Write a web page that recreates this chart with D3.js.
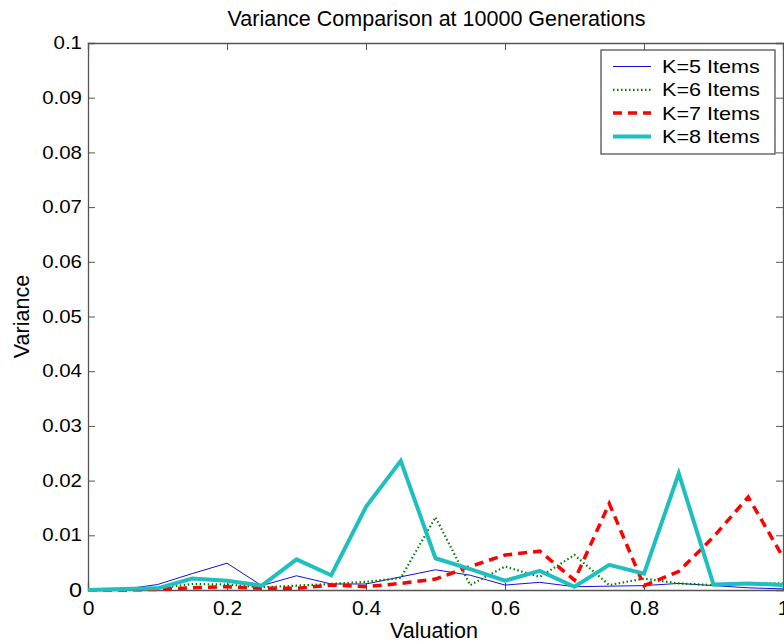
<!DOCTYPE html>
<html>
<head>
<meta charset="utf-8">
<script src="https://cdn.jsdelivr.net/npm/d3@7"></script>
<style>
  html, body { margin: 0; padding: 0; background: #fff; }
  svg { display: block; font-family: "Liberation Sans", Arial, sans-serif; }
</style>
</head>
<body>
<svg id="chart" width="784" height="643"></svg>
<script>
// Valuation grid (x) and variance per item count
const valuation = [0, 0.05, 0.1, 0.15, 0.2, 0.25, 0.3, 0.35, 0.4, 0.45, 0.5,
                   0.55, 0.6, 0.65, 0.7, 0.75, 0.8, 0.85, 0.9, 0.95, 1.0];
const k5 = [0, 0.0001, 0.0010, 0.0030, 0.0049, 0.0008, 0.0026, 0.0011, 0.0011, 0.0024, 0.0037,
            0.0027, 0.0009, 0.0014, 0.0006, 0.0007, 0.0008, 0.0012, 0.0008, 0.0004, 0.0002];
const k6 = [0, 0.0001, 0.0003, 0.0011, 0.0010, 0.0005, 0.0008, 0.0011, 0.0015, 0.0022, 0.0133,
            0.0009, 0.0043, 0.0024, 0.0064, 0.0009, 0.0021, 0.0012, 0.0009, 0.0012, 0.0012];
const k7 = [0, 0, 0.0001, 0.0004, 0.0006, 0.0003, 0.0003, 0.0009, 0.0006, 0.0012, 0.0020,
            0.0043, 0.0064, 0.0071, 0.0018, 0.0158, 0.0008, 0.0034, 0.0097, 0.0170, 0.0060];
const k8 = [0, 0.0002, 0.0003, 0.0021, 0.0017, 0.0008, 0.0056, 0.0027, 0.0152, 0.0236, 0.0058,
            0.0038, 0.0017, 0.0035, 0.0006, 0.0046, 0.0030, 0.0213, 0.0010, 0.0012, 0.0009];
const seriesNames = ["K=5 Items", "K=6 Items", "K=7 Items", "K=8 Items"];
const xTicks = [0, 0.2, 0.4, 0.6, 0.8, 1];
const yTicks = [0, 0.01, 0.02, 0.03, 0.04, 0.05, 0.06, 0.07, 0.08, 0.09, 0.1];

const series = [
  { name: seriesNames[0], values: k5, color: "#1010e0", width: 1,   dash: null },
  { name: seriesNames[1], values: k6, color: "#008000", width: 2.2, dash: "1.5,2.5" },
  { name: seriesNames[2], values: k7, color: "#ff0000", width: 3.5, dash: "9,6" },
  { name: seriesNames[3], values: k8, color: "#1fbfbf", width: 4,   dash: null }
];

const svg = d3.select("#chart");
const plot = { left: 88, top: 43, right: 783, bottom: 590 };
const FONT = "'Liberation Sans', Arial, sans-serif";

const x = d3.scaleLinear().domain([0, 1]).range([plot.left, plot.right]);
const y = d3.scaleLinear().domain([0, 0.1]).range([plot.bottom, plot.top]);

const fmt = d => d === 0 ? "0" : d3.format("~g")(d);
const tickLen = 7;

// Axes: labels on bottom/left, inward ticks on all four sides
const gx = svg.append("g").attr("transform", `translate(0,${plot.bottom})`)
  .call(d3.axisBottom(x).tickValues(xTicks).tickFormat(fmt).tickSize(-tickLen).tickPadding(10));
const gy = svg.append("g").attr("transform", `translate(${plot.left},0)`)
  .call(d3.axisLeft(y).tickValues(yTicks).tickFormat(fmt).tickSize(-tickLen));
const gxTop = svg.append("g").attr("transform", `translate(0,${plot.top})`)
  .call(d3.axisTop(x).tickValues(xTicks).tickFormat("").tickSize(-tickLen));
const gyRight = svg.append("g").attr("transform", `translate(${plot.right},0)`)
  .call(d3.axisRight(y).tickValues(yTicks).tickFormat("").tickSize(-tickLen));

[gx, gy, gxTop, gyRight].forEach(g => {
  g.select(".domain").attr("stroke", "#555").attr("stroke-width", 1.3);
  g.selectAll(".tick line").attr("stroke", "#555").attr("stroke-width", 1);
  g.selectAll("text").attr("fill", "#000").attr("font-family", FONT);
});
gx.selectAll("text").attr("font-size", 21);
// y tick labels are set in a slightly widened face
gy.selectAll(".tick text")
  .attr("x", 0)
  .attr("font-size", d => d === 0 ? 20 : 17.5)
  .attr("transform", "translate(-6,0) scale(1.17,1)");

// Series lines
const line = d3.line().x((d, i) => x(valuation[i])).y(d => y(d));
svg.append("g").selectAll("path").data(series).join("path")
  .attr("d", s => line(s.values))
  .attr("fill", "none")
  .attr("stroke", s => s.color)
  .attr("stroke-width", s => s.width)
  .attr("stroke-dasharray", s => s.dash)
  .attr("stroke-linejoin", "miter");

// Title and axis labels
svg.append("text").attr("x", (plot.left + plot.right) / 2 + 1).attr("y", 26)
  .attr("text-anchor", "middle").attr("font-size", 21.5)
  .text("Variance Comparison at 10000 Generations");
svg.append("text").attr("x", 434).attr("y", 638)
  .attr("text-anchor", "middle").attr("font-size", 21.5)
  .text("Valuation");
svg.append("text")
  .attr("transform", `translate(29,${(plot.top + plot.bottom) / 2}) rotate(-90)`)
  .attr("text-anchor", "middle").attr("font-size", 21.5)
  .text("Variance");

// Legend
const lg = svg.append("g").attr("transform", "translate(601,50)");
lg.append("rect").attr("width", 174).attr("height", 104)
  .attr("fill", "#fff").attr("stroke", "#444").attr("stroke-width", 1.2);
const rows = lg.selectAll("g.row").data(series).join("g").attr("class", "row")
  .attr("transform", (d, i) => `translate(0,${16.5 + i * 23.3})`);
rows.append("line").attr("x1", 12).attr("x2", 50).attr("y1", 0).attr("y2", 0)
  .attr("stroke", s => s.color).attr("stroke-width", s => s.width)
  .attr("stroke-dasharray", s => s.dash);
rows.append("text").attr("transform", "translate(61,6.5) scale(1.2,1)")
  .attr("font-size", 18)
  .text(s => s.name);
</script>
</body>
</html>
